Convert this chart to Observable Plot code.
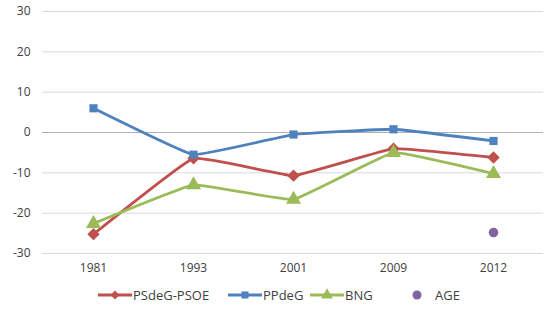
<!DOCTYPE html>
<html><head><meta charset="utf-8">
<script src="https://cdn.jsdelivr.net/npm/d3@7"></script>
<script src="https://cdn.jsdelivr.net/npm/@observablehq/plot@0.6"></script>
<style>
body{margin:0;background:#fff;font-family:"Open Sans","Liberation Sans",sans-serif;}
#legend{position:relative;height:22px;font-size:12px;color:#404040;}
</style></head><body>
<div id="chart"></div>
<div id="legend"></div>
<script>
const years = ["1981","1993","2001","2009","2012"];
const seriesNames = ["PSdeG-PSOE","PPdeG","BNG","AGE"];
const psdeg = [-25.2,-6.4,-10.7,-4.0,-6.2];
const ppdeg = [6.0,-5.5,-0.5,0.8,-2.1];
const bng = [-22.6,-13.0,-16.6,-5.0,-10.2];
const ageYears = ["2012"];
const age = [-24.8];
const yTicks = [-30,-20,-10,0,10,20,30];
const colors = ["#C0504D","#4F81BD","#9BBB59","#8064A2"];
const symbols = ["diamond2","square","triangle","circle"];

const data = [];
[psdeg,ppdeg,bng].forEach((arr,i)=>arr.forEach((v,j)=>data.push({series:seriesNames[i],year:years[j],value:v})));
ageYears.forEach((y,j)=>data.push({series:"AGE",year:y,value:age[j]}));
const lineData = data.filter(d=>d.series!=="AGE");

const marks = [
  Plot.ruleY(yTicks.filter(t=>t!==0), {stroke:"#d9d9d9", strokeWidth:1}),
  Plot.ruleY([0], {stroke:"#b0b0b0", strokeWidth:1}),
  Plot.line(lineData, {x:"year", y:"value", z:"series", stroke:"series", strokeWidth:2.8, curve:"cardinal", tension:0.75}),
];
seriesNames.forEach((s,i)=>{
  const r = i===0?5.6: i===1?4.6: i===2?5.6:4.8;
  marks.push(Plot.dot(data.filter(d=>d.series===s), {x:"year", y:"value", symbol:()=>symbols[i], fill:colors[i], stroke:"none", r}));
});

const chart = Plot.plot({
  width:550, height:285,
  marginLeft:42, marginRight:7, marginTop:11, marginBottom:32,
  style:{fontFamily:"'Open Sans','Liberation Sans',sans-serif", fontSize:"12px", color:"#404040", background:"#fff"},
  x:{type:"point", domain:years, padding:0.5, label:null, tickSize:0, tickPadding:10},
  y:{domain:[-30,30], ticks:yTicks, label:null, tickSize:0, tickPadding:12, tickFormat:d=>String(d)},
  color:{domain:seriesNames, range:colors},
  symbol:{type:"identity"},
  marks
});
document.getElementById("chart").appendChild(chart);

const leg = document.getElementById("legend");
const lineStarts = [98,228,310,null];
const textStarts = [133,263,345,435];
const dotX = 417;
let svg = `<svg width="550" height="22" style="position:absolute;left:0;top:0">`;
seriesNames.forEach((s,i)=>{
  const sym = d3.symbol().type([d3.symbolDiamond2,d3.symbolSquare,d3.symbolTriangle,d3.symbolCircle][i]).size(i===3?64:(i===2?60:50))();
  if (lineStarts[i]!==null){
    const x0 = lineStarts[i];
    svg += `<line x1="${x0}" x2="${x0+34}" y1="10" y2="10" stroke="${colors[i]}" stroke-width="2.8"/>`;
    svg += `<path d="${sym}" transform="translate(${x0+17},10)" fill="${colors[i]}"/>`;
  } else {
    svg += `<path d="${sym}" transform="translate(${dotX},10)" fill="${colors[i]}"/>`;
  }
  svg += `<text x="${textStarts[i]}" y="14.5" fill="#404040" font-size="13">${s}</text>`;
});
svg += `</svg>`;
leg.innerHTML = svg;
</script></body></html>
